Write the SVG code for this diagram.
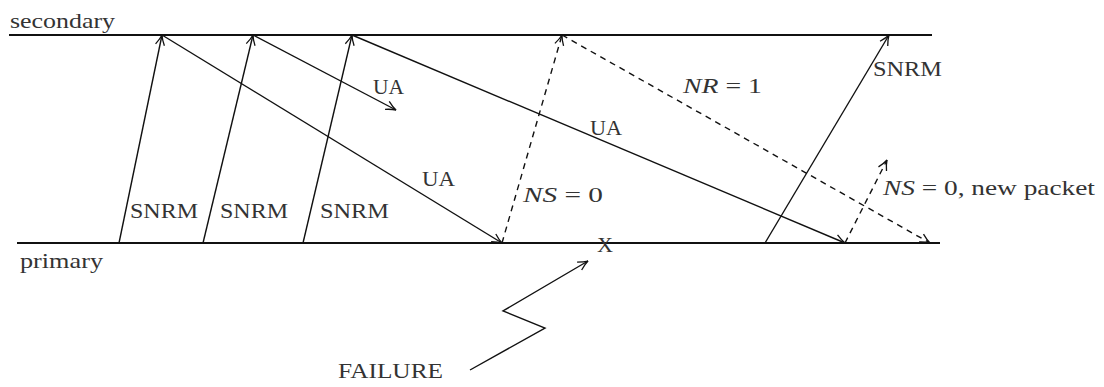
<svg xmlns="http://www.w3.org/2000/svg" width="1104" height="387" viewBox="0 0 1104 387">
<style>
  .t { font-family: "Liberation Serif", "DejaVu Serif", serif; font-size: 21px; fill: #333; }
  .i { font-style: italic; }
  .ln { stroke: #111; stroke-width: 1.4; fill: none; }
  .axis { stroke: #111; stroke-width: 1.8; fill: none; }
  .d { stroke-dasharray: 6 5; }
</style>
<defs>
  <marker id="ah" markerUnits="userSpaceOnUse" markerWidth="14" markerHeight="12" viewBox="-12 -6 14 12" refX="0" refY="0" orient="auto">
    <path d="M -10 -4.5 Q -4 -1 0 0 Q -4 1 -10 4.5" fill="none" stroke="#111" stroke-width="1.3"/>
  </marker>
</defs>
<rect width="1104" height="387" fill="#fff"/>
<g id="axes">
  <line class="axis" x1="9" y1="35" x2="932" y2="35"/>
  <line class="axis" x1="17" y1="243" x2="940" y2="243"/>
  <text class="t" x="10" y="28" textLength="105" lengthAdjust="spacingAndGlyphs">secondary</text>
  <text class="t" x="20" y="268" textLength="83" lengthAdjust="spacingAndGlyphs">primary</text>
</g>
<g id="connectors">
  <line class="ln" x1="119" y1="243" x2="162" y2="35" marker-end="url(#ah)"/>
  <line class="ln" x1="203" y1="243" x2="253" y2="35" marker-end="url(#ah)"/>
  <line class="ln" x1="303" y1="243" x2="352" y2="35" marker-end="url(#ah)"/>
  <line class="ln" x1="162" y1="35" x2="502" y2="243" marker-end="url(#ah)"/>
  <line class="ln" x1="253" y1="35" x2="396" y2="110" marker-end="url(#ah)"/>
  <line class="ln" x1="352" y1="35" x2="845" y2="243" marker-end="url(#ah)"/>
  <line class="ln d" x1="502" y1="243" x2="562" y2="35" marker-end="url(#ah)"/>
  <line class="ln d" x1="562" y1="35" x2="930" y2="243" marker-end="url(#ah)"/>
  <line class="ln" x1="765" y1="243" x2="889" y2="35" marker-end="url(#ah)"/>
  <line class="ln d" x1="845" y1="243" x2="887" y2="160" marker-end="url(#ah)"/>
  <polyline class="ln" points="470,370 545,328 503,311 588,261" marker-end="url(#ah)"/>
</g>
<g id="labels">
  <text class="t" x="130" y="218" textLength="68" lengthAdjust="spacingAndGlyphs">SNRM</text>
  <text class="t" x="220" y="218" textLength="68" lengthAdjust="spacingAndGlyphs">SNRM</text>
  <text class="t" x="320" y="218" textLength="69" lengthAdjust="spacingAndGlyphs">SNRM</text>
  <text class="t" x="873" y="76" textLength="69" lengthAdjust="spacingAndGlyphs">SNRM</text>
  <text class="t" x="373" y="94" textLength="31" lengthAdjust="spacingAndGlyphs">UA</text>
  <text class="t" x="590" y="135" textLength="32" lengthAdjust="spacingAndGlyphs">UA</text>
  <text class="t" x="422" y="186" textLength="33" lengthAdjust="spacingAndGlyphs">UA</text>
  <text class="t" x="523" y="202" textLength="80" lengthAdjust="spacingAndGlyphs"><tspan class="i">NS</tspan> = 0</text>
  <text class="t" x="683" y="93" textLength="79" lengthAdjust="spacingAndGlyphs"><tspan class="i">NR</tspan> = 1</text>
  <text class="t" x="883" y="195" textLength="212" lengthAdjust="spacingAndGlyphs"><tspan class="i">NS</tspan> = 0, new packet</text>
  <text class="t" x="597" y="252" textLength="16" lengthAdjust="spacingAndGlyphs">X</text>
  <text class="t" x="338" y="378" textLength="105" lengthAdjust="spacingAndGlyphs">FAILURE</text>
</g>
</svg>
